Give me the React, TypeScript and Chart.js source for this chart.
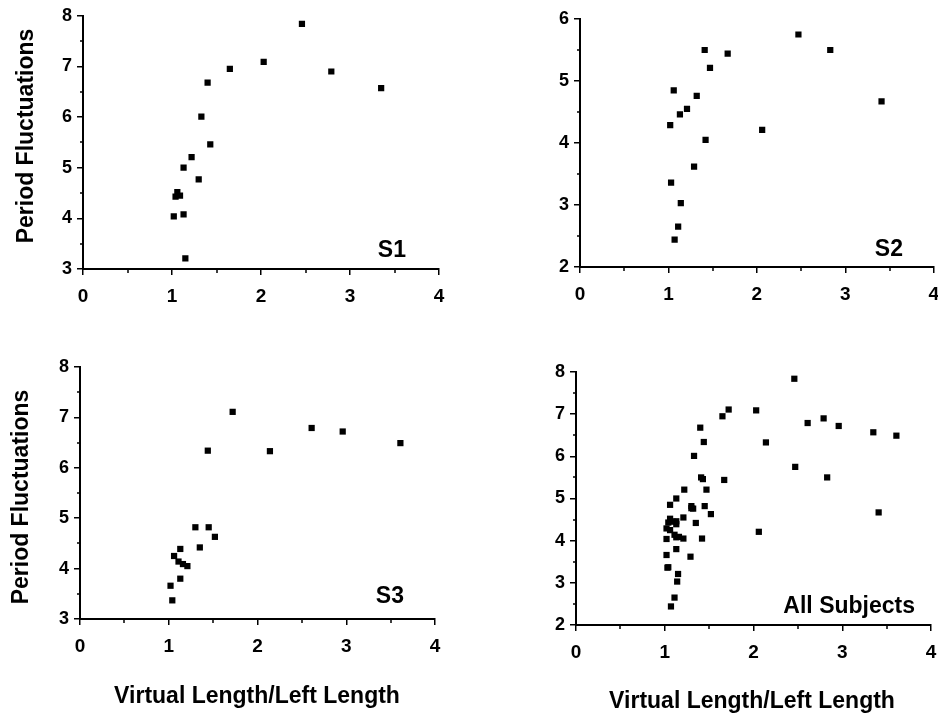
import React, { useEffect, useRef } from 'react';
import { Chart, registerables } from 'chart.js';

Chart.register(...registerables);

// ---- Data ----
const xTickValues = [0, 1, 2, 3, 4];

const s1X = [2.46, 2.03, 1.65, 1.40, 2.79, 3.35, 1.33, 1.43, 1.22, 1.13, 1.30, 1.06, 1.04, 1.09, 1.02, 1.13, 1.15];
const s1Y = [7.84, 7.09, 6.95, 6.68, 6.90, 6.57, 6.01, 5.46, 5.21, 5.00, 4.77, 4.52, 4.43, 4.45, 4.04, 4.08, 3.21];

const s2X = [2.47, 1.41, 1.67, 2.83, 1.47, 1.06, 1.32, 1.21, 1.13, 1.02, 3.41, 2.06, 1.42, 1.29, 1.03, 1.14, 1.11, 1.07];
const s2Y = [5.75, 5.50, 5.44, 5.50, 5.21, 4.85, 4.76, 4.55, 4.46, 4.29, 4.67, 4.21, 4.05, 3.62, 3.36, 3.03, 2.65, 2.44];

const s3X = [1.72, 2.61, 2.96, 3.61, 1.44, 2.14, 1.30, 1.45, 1.52, 1.35, 1.13, 1.06, 1.11, 1.16, 1.21, 1.13, 1.02, 1.04];
const s3Y = [7.11, 6.79, 6.72, 6.49, 6.34, 6.33, 4.82, 4.82, 4.63, 4.42, 4.39, 4.25, 4.14, 4.09, 4.05, 3.80, 3.66, 3.37];

const allX = [...s1X, ...s2X, ...s3X];
const allY = [...s1Y, ...s2Y, ...s3Y];

const yTitleText = 'Period Fluctuations';
const xTitleText = 'Virtual Length/Left Length';

const FONT = "'Liberation Sans', Arial, Helvetica, sans-serif";

type Panel = {
  label: string;
  xs: number[];
  ys: number[];
  yMin: number;
  yMax: number;
  left: number;
  top: number;
  w: number;
  h: number;
  area: { l: number; r: number; t: number; b: number };
  labelPos: { x: number; y: number };
  yTitle: { x: number; y: number } | null;
  xTitle: { x: number; y: number } | null;
};

const panels: Panel[] = [
  {
    label: 'S1', xs: s1X, ys: s1Y, yMin: 3, yMax: 8,
    left: 0, top: 0, w: 469, h: 330,
    area: { l: 83, r: 439, t: 14, b: 269 },
    labelPos: { x: 406, y: 257 },
    yTitle: { x: 33, y: 136 },
    xTitle: null,
  },
  {
    label: 'S2', xs: s2X, ys: s2Y, yMin: 2, yMax: 6,
    left: 469, top: 0, w: 480, h: 330,
    area: { l: 111, r: 465, t: 19, b: 267 },
    labelPos: { x: 434, y: 256 },
    yTitle: null,
    xTitle: null,
  },
  {
    label: 'S3', xs: s3X, ys: s3Y, yMin: 3, yMax: 8,
    left: 0, top: 330, w: 469, h: 388,
    area: { l: 80, r: 435, t: 37, b: 289 },
    labelPos: { x: 404, y: 273 },
    yTitle: { x: 28, y: 167 },
    xTitle: { x: 257, y: 373 },
  },
  {
    label: 'All Subjects', xs: allX, ys: allY, yMin: 2, yMax: 8,
    left: 469, top: 330, w: 480, h: 388,
    area: { l: 107, r: 462, t: 42, b: 295 },
    labelPos: { x: 446, y: 283 },
    yTitle: null,
    xTitle: { x: 283, y: 378 },
  },
];

function PanelChart({ p }: { p: Panel }) {
  const ref = useRef<HTMLCanvasElement | null>(null);

  useEffect(() => {
    if (!ref.current) return;
    const a = p.area;
    const decor = {
      id: 'decor' + p.label.replace(/\s/g, ''),
      afterDraw(chart: any) {
        const ctx = chart.ctx as CanvasRenderingContext2D;
        const xs = chart.scales.x;
        const ys = chart.scales.y;
        ctx.save();
        ctx.strokeStyle = '#000';
        ctx.lineWidth = 1.5;
        ctx.beginPath();
        for (let v = xs.min + 0.5; v < xs.max; v += 1) {
          const px = Math.round(xs.getPixelForValue(v));
          ctx.moveTo(px, chart.chartArea.bottom);
          ctx.lineTo(px, chart.chartArea.bottom + 4);
        }
        for (let v = ys.min + 0.5; v < ys.max; v += 1) {
          const py = Math.round(ys.getPixelForValue(v));
          ctx.moveTo(chart.chartArea.left - 3, py);
          ctx.lineTo(chart.chartArea.left, py);
        }
        ctx.stroke();

        ctx.fillStyle = '#000';
        ctx.font = `bold 23px ${FONT}`;
        ctx.textAlign = 'right';
        ctx.textBaseline = 'alphabetic';
        ctx.fillText(p.label, p.labelPos.x, p.labelPos.y);

        if (p.xTitle) {
          ctx.textAlign = 'center';
          ctx.fillText(xTitleText, p.xTitle.x, p.xTitle.y);
        }
        if (p.yTitle) {
          ctx.save();
          ctx.translate(p.yTitle.x, p.yTitle.y);
          ctx.rotate(-Math.PI / 2);
          ctx.textAlign = 'center';
          ctx.fillText(yTitleText, 0, 0);
          ctx.restore();
        }
        ctx.restore();
      },
    };

    const chart = new Chart(ref.current, {
      type: 'scatter',
      data: {
        datasets: [
          {
            label: p.label,
            data: p.xs.map((x, i) => ({ x, y: p.ys[i] })),
            pointStyle: 'rect',
            pointRadius: 4.4,
            pointHoverRadius: 4.4,
            backgroundColor: '#000',
            borderColor: '#000',
            borderWidth: 0,
            showLine: false,
          },
        ],
      },
      options: {
        animation: false,
        responsive: false,
        devicePixelRatio: 1,
        events: [],
        layout: { padding: { left: 0, top: a.t, right: p.w - a.r, bottom: 0 } },
        plugins: { legend: { display: false }, tooltip: { enabled: false }, title: { display: false } },
        scales: {
          x: {
            type: 'linear',
            min: xTickValues[0],
            max: xTickValues[xTickValues.length - 1],
            afterBuildTicks: (s: any) => {
              s.ticks = xTickValues.map((v) => ({ value: v }));
            },
            ticks: {
              color: '#000',
              padding: 10,
              font: { family: FONT, size: 19, weight: 'bold' },
            },
            grid: { drawOnChartArea: false, drawTicks: true, tickLength: 6, color: '#000', lineWidth: 1.5 },
            border: { display: true, color: '#000', width: 2 },
            afterFit: (s: any) => {
              s.height = p.h - a.b;
            },
          },
          y: {
            type: 'linear',
            min: p.yMin,
            max: p.yMax,
            ticks: {
              stepSize: 1,
              color: '#000',
              padding: 5,
              font: { family: FONT, size: 18, weight: 'bold' },
            },
            grid: { drawOnChartArea: false, drawTicks: true, tickLength: 6, color: '#000', lineWidth: 1.5 },
            border: { display: true, color: '#000', width: 2 },
            afterFit: (s: any) => {
              s.width = a.l;
            },
          },
        },
      } as any,
      plugins: [decor],
    });
    return () => chart.destroy();
  }, [p]);

  return (
    <canvas
      ref={ref}
      width={p.w}
      height={p.h}
      style={{ position: 'absolute', left: p.left, top: p.top, width: p.w, height: p.h }}
    />
  );
}

export default function App() {
  return (
    <div
      style={{
        position: 'fixed',
        left: 0,
        top: 0,
        width: 938,
        height: 718,
        overflow: 'hidden',
        background: '#fff',
      }}
    >
      {panels.map((p) => (
        <PanelChart key={p.label} p={p} />
      ))}
    </div>
  );
}
